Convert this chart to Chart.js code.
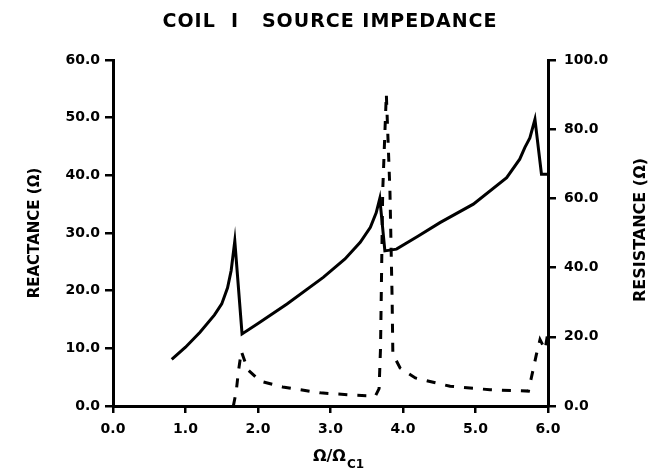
<!DOCTYPE html>
<html>
<head>
<meta charset="utf-8">
<script src="https://cdn.jsdelivr.net/npm/chart.js@4"></script>
<style>
  html, body { margin: 0; padding: 0; background: #fff; }
</style>
</head>
<body>
<canvas id="impedance" width="662" height="474"></canvas>
<script>
// reactance (left axis, ohm) vs frequency ratio
const reactanceX = [0.81, 1.0, 1.2, 1.4, 1.5, 1.58, 1.63, 1.68, 1.78, 2.0, 2.4, 2.9, 3.2, 3.41, 3.55, 3.63, 3.68, 3.75, 3.91, 4.2, 4.51, 4.97, 5.43, 5.61, 5.68, 5.75, 5.82, 5.91, 6.0];
const reactance = [8.1, 10.2, 12.8, 15.8, 17.7, 20.5, 23.5, 28.6, 12.5, 14.3, 17.7, 22.3, 25.5, 28.4, 31.0, 33.5, 36.0, 26.9, 27.2, 29.4, 31.8, 35.0, 39.6, 42.8, 44.8, 46.5, 49.7, 40.2, 40.2];

// resistance (right axis, ohm)
const resistanceX = [1.66, 1.70, 1.73, 1.77, 1.86, 2.03, 2.34, 2.86, 3.36, 3.62, 3.67, 3.69, 3.72, 3.77, 3.82, 3.85, 3.86, 3.96, 4.17, 4.65, 5.2, 5.73, 5.80, 5.84, 5.89, 5.96, 5.99];
const resistance = [0.0, 4.3, 10.0, 15.8, 10.5, 7.2, 5.5, 3.8, 3.1, 2.9, 5.0, 16.8, 62.0, 90.2, 62.0, 31.0, 15.0, 11.0, 8.1, 5.7, 4.7, 4.3, 11.0, 14.9, 19.2, 16.3, 20.2];

// tick labels
const xTicks = [0, 1, 2, 3, 4, 5, 6];
const reactanceTicks = [0, 10, 20, 30, 40, 50, 60];
const resistanceTicks = [0, 20, 40, 60, 80, 100];

const INK = "#000";
const FONT = "'DejaVu Sans', sans-serif";

function toPoints(xs, ys) {
  return xs.map((x, i) => ({ x: x, y: ys[i] }));
}

function setTicks(values) {
  return (scale) => {
    scale.ticks = values.map((v) => ({ value: v }));
  };
}

// title and axis titles
const labelsPlugin = {
  id: "plotLabels",
  afterDraw(chart) {
    const ctx = chart.ctx;
    ctx.save();
    ctx.fillStyle = INK;
    ctx.textAlign = "center";
    ctx.textBaseline = "middle";

    ctx.font = "bold 19px " + FONT;
    ctx.letterSpacing = "1px";
    ctx.fillText("COIL  I   SOURCE IMPEDANCE", 330, 22);
    ctx.letterSpacing = "0px";

    ctx.font = "bold 15px " + FONT;
    ctx.save();
    ctx.translate(35, 233);
    ctx.rotate(-Math.PI / 2);
    ctx.fillText("REACTANCE (Ω)", 0, 0);
    ctx.restore();

    ctx.font = "bold 16px " + FONT;
    ctx.save();
    ctx.translate(641, 230);
    ctx.rotate(-Math.PI / 2);
    ctx.fillText("RESISTANCE (Ω)", 0, 0);
    ctx.restore();

    // Ω/Ωc1
    ctx.font = "bold 16px " + FONT;
    ctx.textAlign = "left";
    const main = "Ω/Ω";
    const w = ctx.measureText(main).width;
    ctx.font = "bold 12px " + FONT;
    const sw = ctx.measureText("C1").width;
    const startX = 338 - (w + sw) / 2;
    ctx.font = "bold 16px " + FONT;
    ctx.fillText(main, startX, 457);
    ctx.font = "bold 12px " + FONT;
    ctx.fillText("C1", startX + w + 1, 465);
    ctx.restore();
  },
};

const tickFont = { family: FONT, size: 14, weight: "bold" };
const axisBorder = { color: INK, width: 3 };
const axisGrid = { drawOnChartArea: false, drawTicks: true, tickLength: 8, color: INK, lineWidth: 2.5 };

new Chart(document.getElementById("impedance").getContext("2d"), {
  type: "line",
  data: {
    datasets: [
      {
        label: "Reactance",
        data: toPoints(reactanceX, reactance),
        yAxisID: "y",
        borderColor: INK,
        borderWidth: 3,
        pointRadius: 0,
        tension: 0,
        fill: false,
      },
      {
        label: "Resistance",
        data: toPoints(resistanceX, resistance),
        yAxisID: "y1",
        borderColor: INK,
        borderWidth: 3,
        borderDash: [9, 10],
        pointRadius: 0,
        tension: 0,
        fill: false,
      },
    ],
  },
  options: {
    responsive: false,
    animation: false,
    devicePixelRatio: 1,
    layout: { padding: { top: 60, left: 0, right: 0, bottom: 0 } },
    plugins: {
      legend: { display: false },
      tooltip: { enabled: false },
    },
    scales: {
      x: {
        type: "linear",
        position: "bottom",
        min: 0,
        max: 6,
        afterBuildTicks: setTicks(xTicks),
        afterFit(scale) { scale.height = 68; },
        border: axisBorder,
        grid: { ...axisGrid, tickLength: 7 },
        ticks: {
          font: tickFont,
          color: INK,
          padding: 8,
          maxRotation: 0,
          callback: (v) => v.toFixed(1),
        },
      },
      y: {
        type: "linear",
        position: "left",
        min: 0,
        max: 60,
        afterBuildTicks: setTicks(reactanceTicks),
        afterFit(scale) { scale.width = 113; },
        border: axisBorder,
        grid: axisGrid,
        ticks: {
          font: tickFont,
          color: INK,
          padding: 5,
          callback: (v) => v.toFixed(1),
        },
      },
      y1: {
        type: "linear",
        position: "right",
        min: 0,
        max: 100,
        afterBuildTicks: setTicks(resistanceTicks),
        afterFit(scale) { scale.width = 114; },
        border: axisBorder,
        grid: axisGrid,
        ticks: {
          font: tickFont,
          color: INK,
          padding: 8,
          callback: (v) => v.toFixed(1),
        },
      },
    },
  },
  plugins: [labelsPlugin],
});
</script>
</body>
</html>
